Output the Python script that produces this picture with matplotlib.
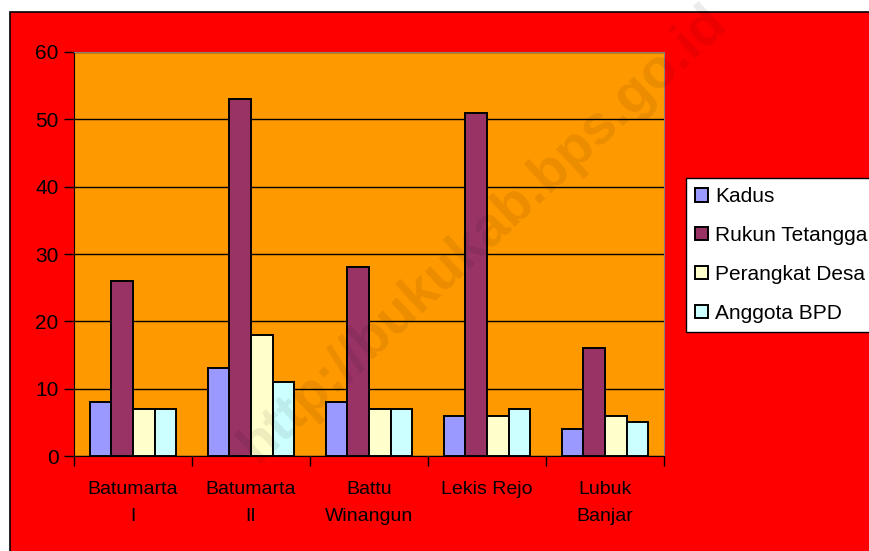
import matplotlib.pyplot as plt
import numpy as np
from matplotlib.patches import Rectangle

plt.rcParams['font.family'] = ['Liberation Sans', 'DejaVu Sans']

desa = ["Batumarta\nI", "Batumarta\nII", "Battu\nWinangun", "Lekis Rejo", "Lubuk\nBanjar"]
series = ["Kadus", "Rukun Tetangga", "Perangkat Desa", "Anggota BPD"]
kadus = [8, 13, 8, 6, 4]
rukun_tetangga = [26, 53, 28, 51, 16]
perangkat_desa = [7, 18, 7, 6, 6]
anggota_bpd = [7, 11, 7, 7, 5]
colors = ["#9999FF", "#993366", "#FFFFCC", "#CCFFFF"]

fig = plt.figure(figsize=(8.7, 5.51), dpi=100)
fig.patch.set_facecolor("white")
# red chart area with black border
fig.patches.append(Rectangle((10 / 870, -0.01), 1, 1.01 - 12 / 551, transform=fig.transFigure,
                             facecolor="#FF0000", edgecolor="black", linewidth=1.2, zorder=-5))

ax = fig.add_axes([74 / 870, 1 - 456 / 551, (664 - 74) / 870, (456 - 52) / 551])
ax.set_facecolor("#FF9900")

x = np.arange(len(desa))
w = 0.184
values = [kadus, rukun_tetangga, perangkat_desa, anggota_bpd]
for i, (name, vals) in enumerate(zip(series, values)):
    ax.bar(x + (i - 1.5) * w, vals, width=w, color=colors[i], edgecolor="black",
           linewidth=1.4, label=name, zorder=3)

ax.set_xlim(-0.5, len(desa) - 0.5)
ax.set_ylim(0, 60)
ax.set_yticks(np.arange(0, 61, 10))
ax.yaxis.grid(True, color="black", linewidth=1)
ax.set_axisbelow(True)
ax.tick_params(axis="y", labelsize=15, length=7, direction="out", width=1, pad=4)

ax.set_xticks(np.arange(-0.5, len(desa), 1))
ax.set_xticklabels([])
ax.tick_params(axis="x", length=7, direction="out", width=1)
ax.set_xticks(x, minor=True)
ax.set_xticklabels(desa, minor=True, fontsize=14, linespacing=1.75)
ax.tick_params(axis="x", which="minor", length=0, pad=18)

for s in ["top", "right"]:
    ax.spines[s].set_color("grey")
ax.spines["left"].set_color("black")
ax.spines["bottom"].set_color("black")

leg = fig.legend(loc="upper left", bbox_to_anchor=(686 / 870, 1 - 178 / 551),
                 fontsize=15, frameon=True, fancybox=False, edgecolor="black",
                 facecolor="white", framealpha=1,
                 handlelength=0.6, handleheight=0.6, handletextpad=0.35,
                 labelspacing=0.95, borderpad=0.45, borderaxespad=0)
leg.get_frame().set_linewidth(1)

fig.text(0.555, 0.575, "http://bukukab.bps.go.id", fontsize=40, fontweight="bold",
         color="black", alpha=0.08, rotation=43, ha="center", va="center")

fig.savefig("out.png", dpi=100)
